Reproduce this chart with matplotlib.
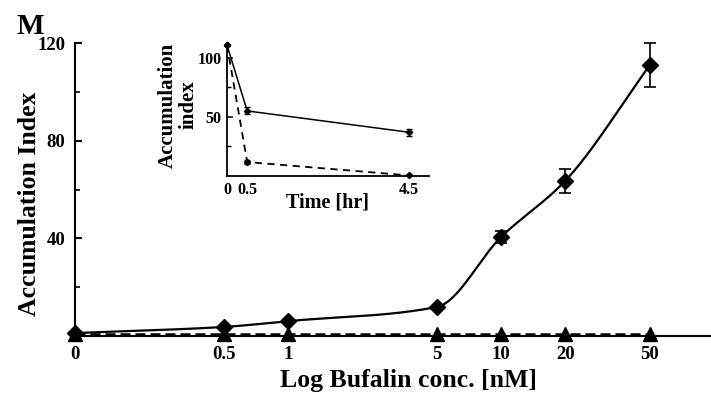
import numpy as np
import matplotlib
matplotlib.use('Agg')
import matplotlib.pyplot as plt

plt.rcParams['font.family'] = ['Liberation Serif', 'DejaVu Serif']
plt.rcParams['font.weight'] = 'bold'

# ---- main panel data ----
conc_labels = ['0', '0.5', '1', '5', '10', '20', '50']
conc_pos = [0.1, 0.5, 1, 5, 10, 20, 50]          # "0" placed at 0.1 on the log axis
diamond_vals = [1.2, 3.7, 6.1, 11.9, 40.5, 63.5, 111]
diamond_err = [0, 0, 0, 0, 2.5, 5, 9]
triangle_vals = [1.0, 1.0, 1.0, 1.0, 1.0, 1.0, 1.0]
main_yticks = [40, 80, 120]
main_yminor = [20, 60, 100]

# ---- inset data ----
time_h = [0, 0.5, 4.5]
inset_solid = [110.7, 55, 37]
inset_solid_err = [0, 3, 3]
inset_dashed = [110.7, 11.8, 0.5]
inset_dashed_err = [0, 2, 0]
inset_xticks = [0, 0.5, 4.5]
inset_xlabels = ['0', '0.5', '4.5']
inset_yticks = [50, 100]
inset_yminor = [25, 75]

W, H = 711, 396
fig = plt.figure(figsize=(W / 100, H / 100), dpi=100)

# main axes: left 75px, bottom 336px, top 43px
ax = fig.add_axes([75 / W, (H - 336) / H, 639 / W, 293 / H])
ax.set_xscale('log')
ax.set_xlim(0.1, 100)
ax.set_ylim(0, 120)
for s in ['top', 'right']:
    ax.spines[s].set_visible(False)
for s in ['left', 'bottom']:
    ax.spines[s].set_linewidth(1.5)

ax.set_xticks(conc_pos)
ax.set_xticklabels(conc_labels)
ax.xaxis.set_minor_locator(matplotlib.ticker.NullLocator())
ax.tick_params(axis='x', length=0, pad=7, labelsize=13.5)
ax.set_yticks(main_yticks)
ax.set_yticks(main_yminor, minor=True)
ax.tick_params(axis='y', which='major', direction='in', length=5, width=1.5, pad=7, labelsize=13.5)
ax.tick_params(axis='y', which='minor', direction='in', length=3.5, width=1.2)

# smooth monotone (PCHIP) curve through diamond points, computed in display space
fig.canvas.draw()
pts = ax.transData.transform(np.column_stack([conc_pos, diamond_vals]))
xs, ys = pts[:, 0], pts[:, 1]
h = np.diff(xs)
d = np.diff(ys) / h
m = np.zeros_like(ys)
for k in range(1, len(xs) - 1):
    if d[k - 1] * d[k] > 0:
        w1 = 2 * h[k] + h[k - 1]
        w2 = h[k] + 2 * h[k - 1]
        m[k] = (w1 + w2) / (w1 / d[k - 1] + w2 / d[k])
m[0] = d[0]
m[-1] = d[-1]
cx, cy = [], []
for k in range(len(xs) - 1):
    t = np.linspace(0, 1, 60)
    h00 = 2 * t**3 - 3 * t**2 + 1
    h10 = t**3 - 2 * t**2 + t
    h01 = -2 * t**3 + 3 * t**2
    h11 = t**3 - t**2
    cx.extend(xs[k] + t * h[k])
    cy.extend(h00 * ys[k] + h10 * h[k] * m[k] + h01 * ys[k + 1] + h11 * h[k] * m[k + 1])
curve = ax.transData.inverted().transform(np.column_stack([cx, cy]))
ax.plot(curve[:, 0], curve[:, 1], color='black', lw=1.6, zorder=3)

ax.plot(conc_pos, triangle_vals, color='black', lw=1.8, dashes=(4, 2), zorder=3)
ax.plot(conc_pos, triangle_vals, linestyle='none', marker='^', ms=10, color='black',
        clip_on=False, zorder=4)
ax.errorbar(conc_pos, diamond_vals, yerr=diamond_err, fmt='D', ms=8.5, color='black',
            ecolor='black', elinewidth=1.2, capsize=4, capthick=1.2, clip_on=False, zorder=5)

ax.set_xlabel('Log Bufalin conc. [nM]', fontsize=18.5, fontweight='bold')
ax.xaxis.label.set_va('center')
ax.xaxis.set_label_coords((408 - 75) / 639, (336 - 381) / 293)
ax.set_ylabel('Accumulation Index', fontsize=18.5, fontweight='bold')
ax.yaxis.label.set_va('center')
ax.yaxis.set_label_coords((30 - 75) / 639, (336 - 204) / 293)

fig.text(30 / W, 1 - 27 / H, 'M', fontsize=21, fontweight='bold', ha='center', va='center')

# ---- inset ----
ia = fig.add_axes([227 / W, (H - 176) / H, 202 / W, 133 / H])
ia.set_xlim(0, 5)
ia.set_ylim(0, 112.4)
for s in ['top', 'right']:
    ia.spines[s].set_visible(False)
for s in ['left', 'bottom']:
    ia.spines[s].set_linewidth(1.3)
ia.set_xticks(inset_xticks)
ia.set_xticklabels(inset_xlabels)
ia.tick_params(axis='x', length=0, pad=4, labelsize=11.5)
ia.set_yticks(inset_yticks)
ia.set_yticks(inset_yminor, minor=True)
ia.tick_params(axis='y', which='major', direction='in', length=4, width=1.1, pad=4, labelsize=11.5)
ia.tick_params(axis='y', which='minor', direction='in', length=3, width=1.0)

ia.errorbar(time_h, inset_solid, yerr=inset_solid_err, fmt='-D', ms=3.2, lw=1.1,
            color='black', elinewidth=1.0, capsize=2, clip_on=False, zorder=4)
ia.errorbar(time_h, inset_dashed, yerr=inset_dashed_err, fmt='D', ms=3.2, color='black',
            elinewidth=1.0, capsize=2, clip_on=False, zorder=4)
ia.plot(time_h, inset_dashed, color='black', lw=1.3, dashes=(4, 3), clip_on=False, zorder=3)

ia.set_ylabel('Accumulation\nindex', fontsize=15, fontweight='bold', linespacing=1.05)
ia.yaxis.label.set_va('center')
ia.yaxis.set_label_coords((178 - 227) / 202, (176 - 105) / 133)
ia.set_xlabel('Time [hr]', fontsize=14.5, fontweight='bold')
ia.xaxis.label.set_va('center')
ia.xaxis.set_label_coords((328 - 227) / 202, (176 - 202) / 133)

fig.savefig('out.png', dpi=100)
